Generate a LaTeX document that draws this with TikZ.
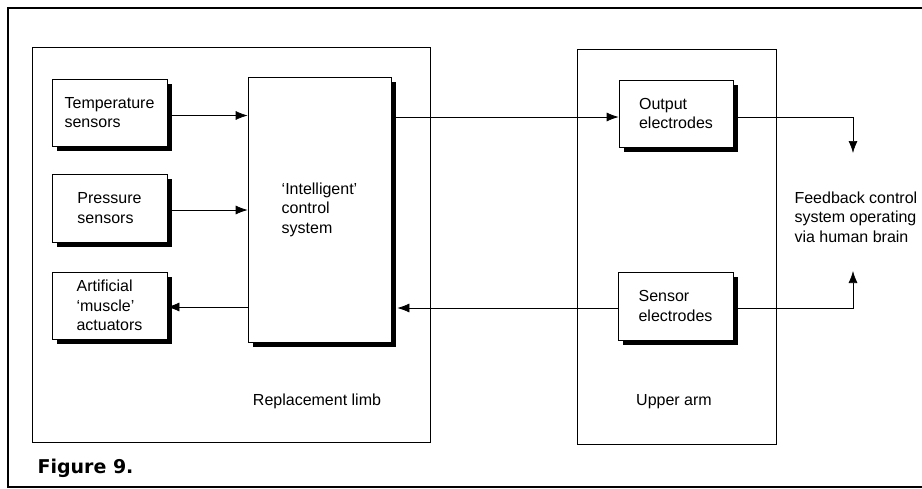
\documentclass[tikz,border=0pt]{standalone}
\usepackage{fontspec}
\setmainfont{Liberation Sans}
\newfontfamily\figfont{DejaVu Sans}
\usetikzlibrary{arrows.meta,calc,positioning,shadows}

\begin{document}
\begin{tikzpicture}[x=1pt,y=-1pt,
    blk/.style={draw,fill=white,line width=0.7pt,align=left,inner sep=0pt,
      drop shadow={shadow xshift=5pt,shadow yshift=-5pt,fill=black,opacity=1}},
    zone/.style={draw,line width=0.8pt,inner sep=0pt},
    sig/.style={-{Latex[length=12pt,width=9pt]},line width=0.7pt}]
    \useasboundingbox (0,0) rectangle (922,488);
    \fontsize{16}{19.5}\selectfont
    % Ramme
    \draw[line width=1.6pt] (922,8) -- (8,8) -- (8,487) -- (922,487);
    % Omraader
    \node[zone,minimum width=398pt,minimum height=395pt] (limb) at (231,244.5) {};
    \node[zone,minimum width=199pt,minimum height=395pt] (arm) at (676.5,246.5) {};
    \node (limblbl) at (317,401) {Replacement limb};
    \node (armlbl) at (674,402) {Upper arm};
    % Blokke
    \node[blk,minimum width=115pt,minimum height=67pt] (temp) at (109.5,112.5) {Temperature\\sensors};
    \node[blk,minimum width=115pt,minimum height=68pt] (press) at (109.5,208) {Pressure\\sensors};
    \node[blk,minimum width=115pt,minimum height=67pt] (act) at (109.5,305.5) {Artificial\\`muscle'\\actuators};
    \node[blk,minimum width=143pt,minimum height=265pt] (ctrl) at (319.5,209.5) {`Intelligent'\\control\\system};
    \node[blk,minimum width=114pt,minimum height=67pt] (outel) at (676,113.5) {Output\\electrodes};
    \node[blk,minimum width=115pt,minimum height=68pt] (sensel) at (675.5,306) {Sensor\\electrodes};
    \node[align=left,anchor=west] (brain) at (789,217) {Feedback control\\system operating\\via human brain};
    \node[anchor=west,font=\figfont\bfseries\fontsize{19}{21}\selectfont] (fig) at (32,468) {Figure 9.};
    % Forbindelser
    \coordinate (tobrain) at (853,153);
    \coordinate (frombrain) at (853,271);
    \draw[sig] ([yshift=-3pt]temp.east) -- ([yshift=-3pt]temp.east -| ctrl.west);
    \draw[sig] ([yshift=-2pt]press.east) -- ([yshift=-2pt]press.east -| ctrl.west);
    \draw[sig] ([yshift=-1.5pt]act.east -| ctrl.west) -- ([yshift=-1.5pt]act.east);
    \draw[sig] ([yshift=-3.5pt]outel.west -| ctrl.east) -- ([yshift=-3.5pt]outel.west);
    \draw[sig] ([yshift=-2pt]sensel.west) -- ([xshift=6pt,yshift=-2pt]sensel.west -| ctrl.east);
    \draw[sig] ([yshift=-3.5pt]outel.east) -| (tobrain);
    \draw[sig] ([yshift=-2pt]sensel.east) -| (frombrain);
\end{tikzpicture}
\end{document}
